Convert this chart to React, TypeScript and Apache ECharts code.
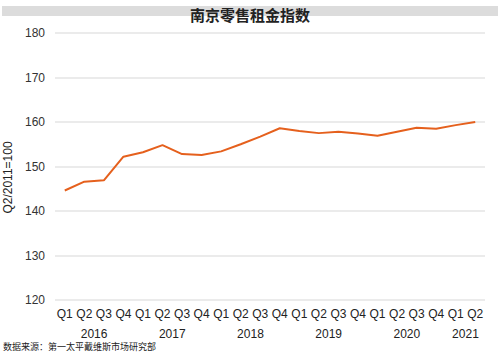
import React, { useEffect, useRef } from "react";
import * as echarts from "echarts";

const quarters = ["Q1","Q2","Q3","Q4","Q1","Q2","Q3","Q4","Q1","Q2","Q3","Q4","Q1","Q2","Q3","Q4","Q1","Q2","Q3","Q4","Q1","Q2"];
const values = [144.6,146.6,146.9,152.2,153.2,154.8,152.8,152.6,153.4,155.0,156.7,158.6,158.0,157.5,157.8,157.4,156.9,157.8,158.7,158.5,159.3,160.0];
const years = ["2016","2017","2018","2019","2020","2021"];
// index of the first and last quarter of each year in the series
const yearStart = [0,4,8,12,16,20];
const yearEnd = [3,7,11,15,19,21];
const yTicks = [120,130,140,150,160,170,180];

const FONT = "'Liberation Sans', Arial, sans-serif";

export default function App() {
  const ref = useRef<HTMLDivElement>(null);
  useEffect(() => {
    if (!ref.current) return;
    const chart = echarts.init(ref.current, null, { renderer: "svg" });
    // half-slot axis: category i center at slot 2i+1
    const nSlots = quarters.length * 2 + 1;
    const yearSlots: string[] = new Array(nSlots).fill("");
    years.forEach((y, k) => {
      const slot = yearStart[k] + yearEnd[k] + 1;
      yearSlots[slot] = y;
    });
    chart.setOption({
      animation: false,
      backgroundColor: "#fff",
      graphic: [
        { type: "rect", left: 2, top: 6, shape: { width: 496, height: 10 }, style: { fill: "#dcdcdc" }, z: -1 },
      ],
      title: {
        text: "南京零售租金指数",
        left: "center",
        top: 2,
        textStyle: { fontFamily: "'Noto Sans CJK SC', sans-serif", fontSize: 15, fontWeight: "bold", color: "#222" },
      },
      grid: { left: 55, right: 15, top: 33, bottom: 54, containLabel: false, outerBoundsMode: "none" },
      xAxis: [
        {
          type: "category",
          data: quarters,
          boundaryGap: true,
          axisLine: { show: false },
          axisTick: { show: false },
          axisLabel: { interval: 0, color: "#222", fontSize: 12, fontFamily: FONT, margin: 8 },
        },
        {
          type: "category",
          data: yearSlots,
          boundaryGap: false,
          position: "bottom",
          offset: 20,
          axisLine: { show: false },
          axisTick: { show: false },
          splitLine: { show: false },
          axisLabel: { interval: 0, color: "#222", fontSize: 12, fontFamily: FONT, margin: 8 },
        },
      ],
      yAxis: {
        type: "value",
        min: yTicks[0],
        max: yTicks[yTicks.length - 1],
        interval: 10,
        name: "Q2/2011=100",
        nameLocation: "middle",
        nameGap: 33,
        nameTextStyle: { color: "#222", fontSize: 12, fontFamily: FONT, padding: [0, 0, 0, -22] },
        axisLine: { show: false },
        axisTick: { show: false },
        axisLabel: { color: "#333", fontSize: 12, fontFamily: FONT, margin: 10 },
        splitLine: { lineStyle: { color: "#e4e4e4", width: 1.5 } },
      },
      series: [
        {
          type: "line",
          data: values,
          symbol: "none",
          lineStyle: { color: "#e5601d", width: 2 },
          itemStyle: { color: "#e5601d" },
        },
      ],
    });
    return () => chart.dispose();
  }, []);
  return (
    <div>
      <div ref={ref} style={{ width: 500, height: 354, position: "absolute", left: 0, top: 0 }} />
      <div
        style={{
          position: "absolute",
          left: 3,
          top: 341,
          fontSize: 9,
          color: "#222",
          fontFamily: "'Noto Sans CJK SC', sans-serif",
          lineHeight: "11px",
        }}
      >
        数据来源：第一太平戴维斯市场研究部
      </div>
    </div>
  );
}
